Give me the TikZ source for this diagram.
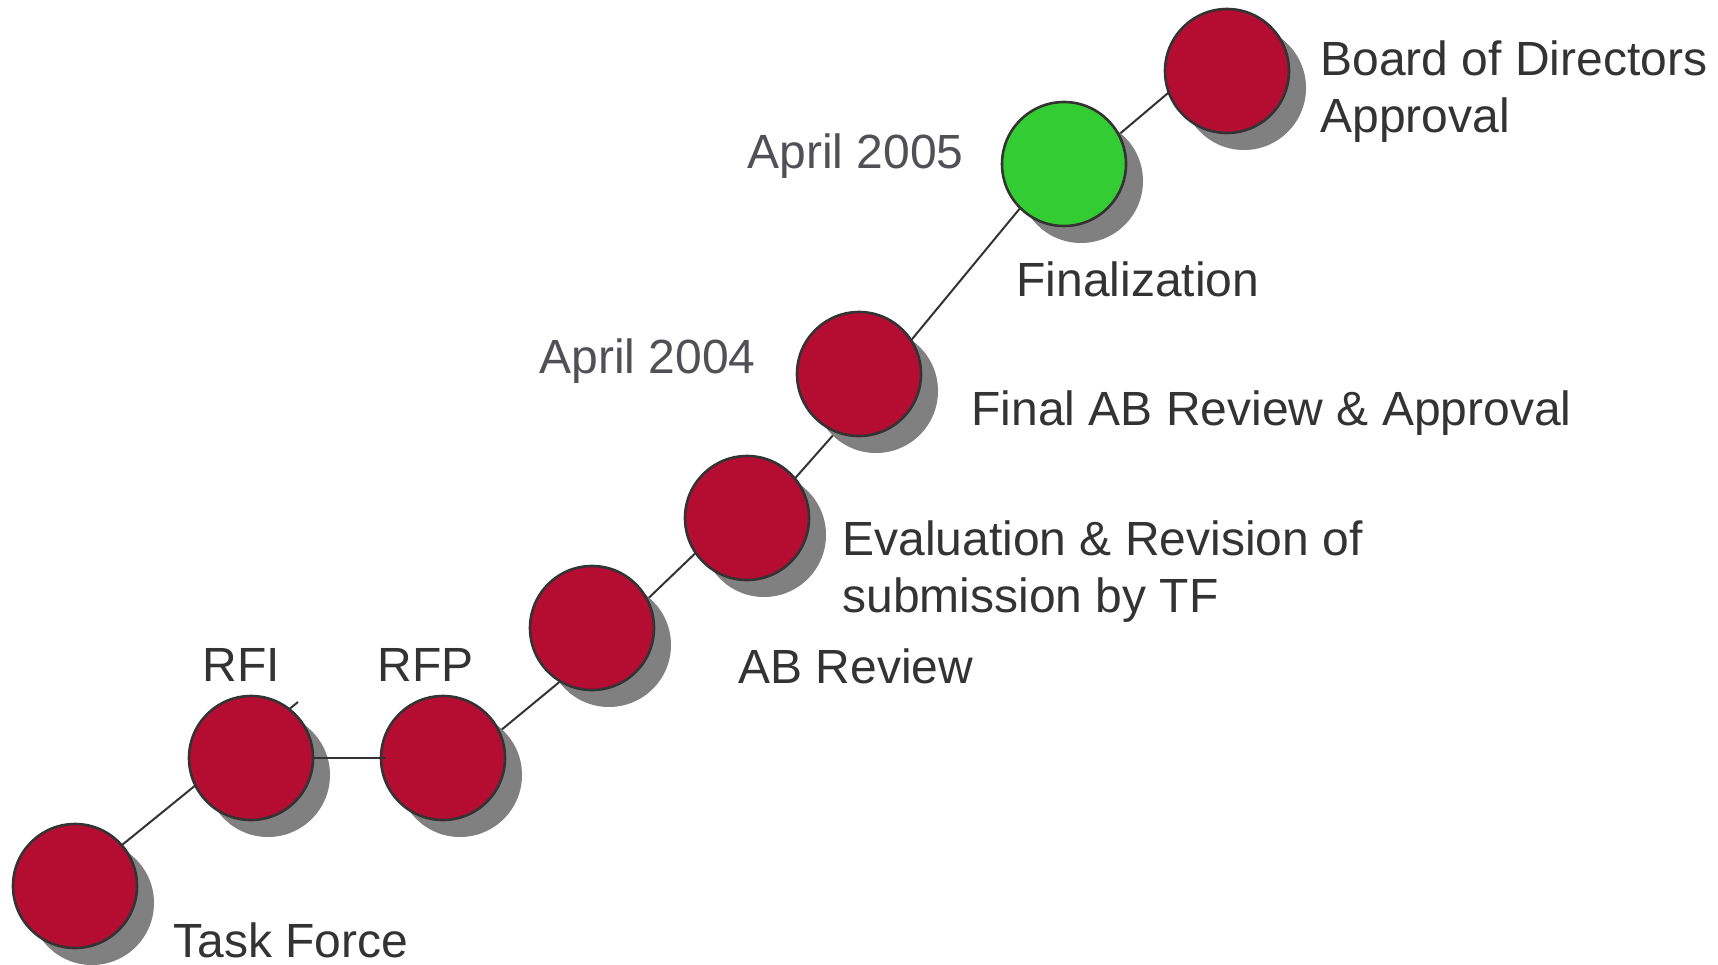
\documentclass[tikz,border=0pt]{standalone}
\usepackage{fontspec}
\setmainfont{Liberation Sans}
\usetikzlibrary{shadows}
\definecolor{msred}{HTML}{B50D32}
\definecolor{msgreen}{HTML}{33CC33}
\definecolor{msshadow}{HTML}{808080}
\definecolor{msline}{HTML}{333333}
\definecolor{mstext}{HTML}{333333}
\definecolor{msdate}{HTML}{505056}
\pgfdeclarelayer{background}
\pgfsetlayers{background,main}
\tikzset{
  milestone/.style={circle, minimum size=62pt, inner sep=0pt, draw=msline, line width=1.3pt, fill=msred,
    drop shadow={shadow xshift=8.5pt, shadow yshift=-8.5pt, fill=msshadow, opacity=1}},
  donestone/.style={milestone, fill=msgreen},
  lbl/.style={anchor=base west, inner sep=0pt, text=mstext, align=left,
    font=\fontsize{24}{28.5}\selectfont},
  datelbl/.style={lbl, text=msdate},
  link/.style={draw=msline, line width=1pt}
}
\begin{document}
\begin{tikzpicture}[x=0.5pt,y=-0.5pt]
\useasboundingbox (0,0) rectangle (1718,964);
% milestones
\node[milestone] (tf) at (75,886) {};
\node[milestone] (rfi) at (251,758) {};
\node[milestone] (rfp) at (443,758) {};
\node[milestone] (ab) at (592,628) {};
\node[milestone] (eval) at (747,518) {};
\node[milestone] (final) at (859,374) {};
\node[donestone] (fin) at (1064,164) {};
\node[milestone] (board) at (1227,71) {};
% connector end points
\coordinate (tfa) at (90,871);
\coordinate (rfistub) at (298,702);
\coordinate (rfpa) at (460,764);
\coordinate (aba) at (580,665);
\coordinate (abb) at (610,635);
\coordinate (evala) at (730,520);
\coordinate (evalb) at (760,518);
\coordinate (finala) at (850,416);
\coordinate (finalb) at (880,378);
\coordinate (fina) at (1040,184);
\coordinate (finb) at (1090,159);
\coordinate (boarda) at (1200,66);
\coordinate (rfpin) at (386,758);
\begin{pgfonlayer}{background}
\draw[link] (tfa) -- (rfistub);
\draw[link] (rfpa) -- (aba);
\draw[link] (abb) -- (evala);
\draw[link] (evalb) -- (finala);
\draw[link] (finalb) -- (fina);
\draw[link] (finb) -- (boarda);
\end{pgfonlayer}
\draw[link] (rfi.east) -- (rfpin);
% labels
\node[lbl] (ltf) at (173,957) {Task Force};
\node[lbl] (lrfi) at (202,681) {RFI};
\node[lbl] (lrfp) at (377,681) {RFP};
\node[lbl] (lab) at (738,683) {AB Review};
\node[lbl] (leval) at (842,612) {Evaluation \& Revision of\\submission by TF};
\node[lbl] (lfinal) at (971,425) {Final AB Review \& Approval};
\node[datelbl] (d2004) at (539,373) {April 2004};
\node[datelbl] (d2005) at (747,168) {April 2005};
\node[lbl] (lfin) at (1016,296) {Finalization};
\node[lbl] (lboard) at (1320,132) {Board of Directors\\Approval};
\end{tikzpicture}
\end{document}
